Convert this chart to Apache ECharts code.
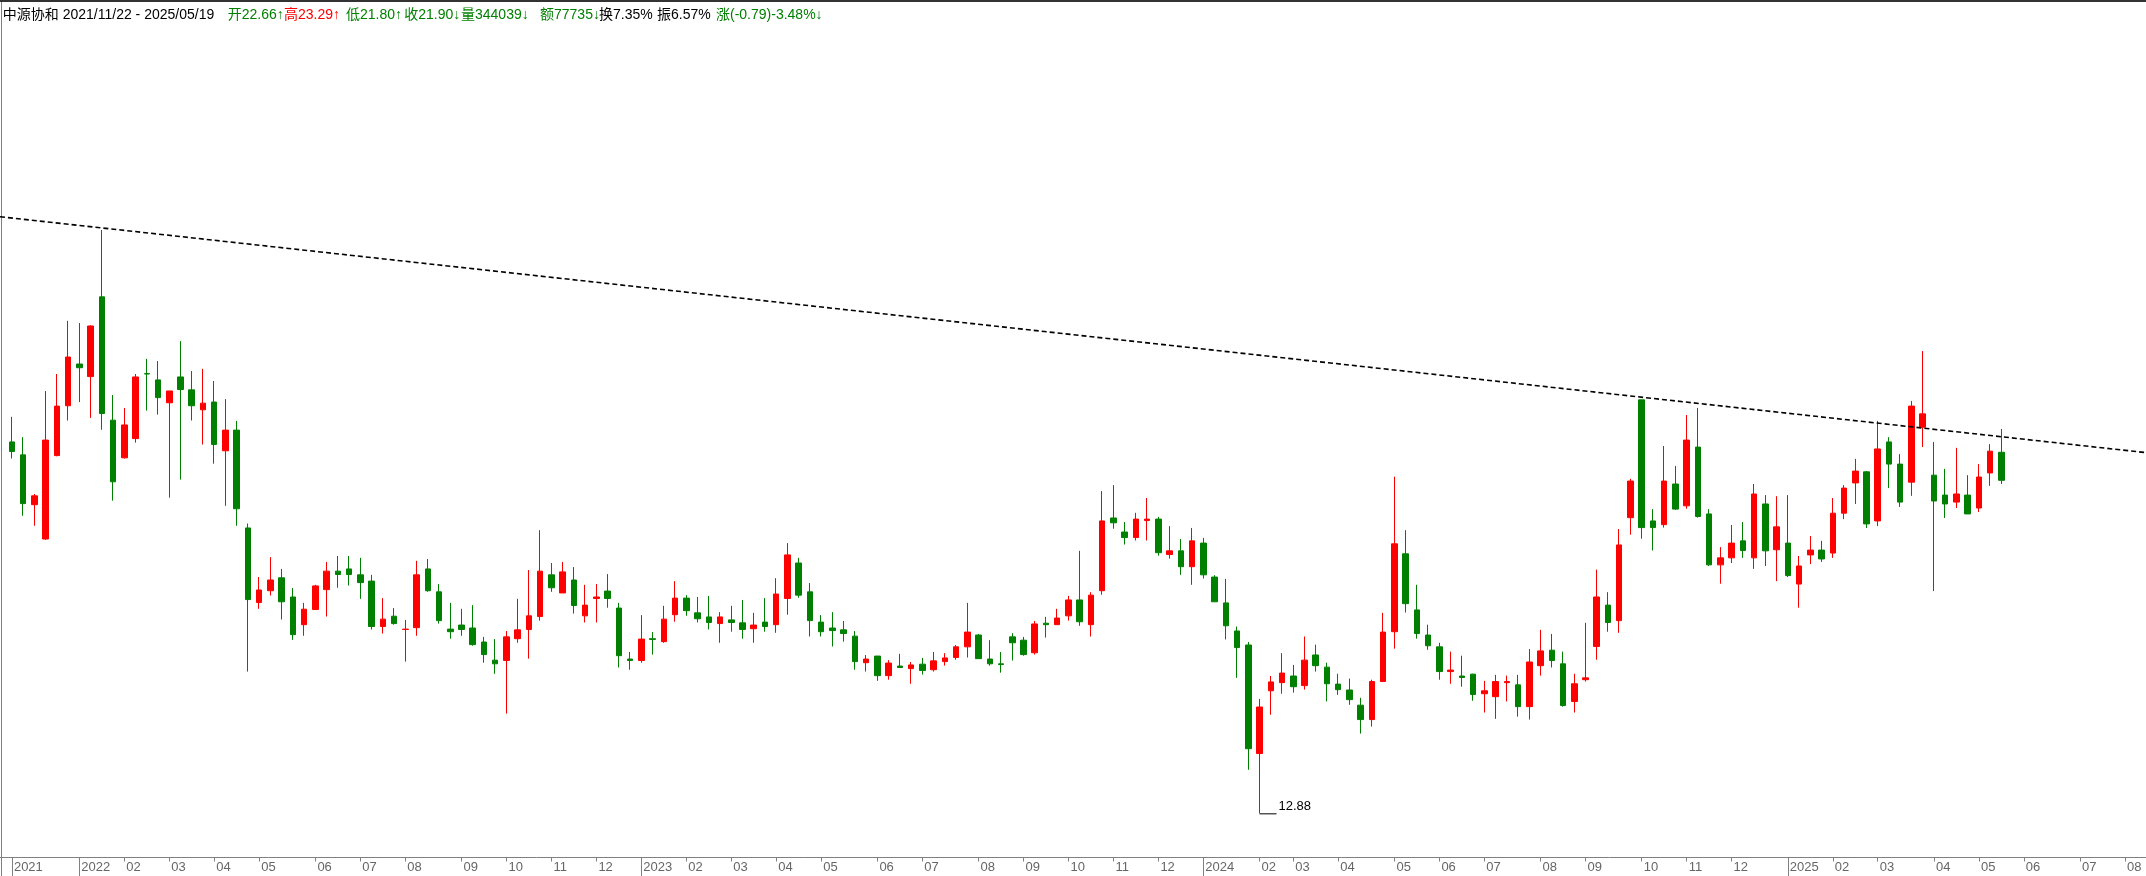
<!DOCTYPE html>
<html><head><meta charset="utf-8">
<script src="https://cdn.jsdelivr.net/npm/echarts@6/dist/echarts.min.js"></script>
<style>html,body{margin:0;padding:0;background:#fff;overflow:hidden;}#c{width:2146px;height:876px;}</style>
</head><body><div id="c"></div>
<script>
// weekly categories (Monday of each trading week), incl. future empty weeks
const weeks = [
'2021-11-22','2021-11-29','2021-12-06','2021-12-13','2021-12-20','2021-12-27',
'2022-01-03','2022-01-10','2022-01-17','2022-01-24','2022-02-07','2022-02-14','2022-02-21','2022-02-28',
'2022-03-07','2022-03-14','2022-03-21','2022-03-28','2022-04-04','2022-04-11','2022-04-18','2022-04-25',
'2022-05-02','2022-05-09','2022-05-16','2022-05-23','2022-05-30','2022-06-06','2022-06-13','2022-06-20','2022-06-27',
'2022-07-04','2022-07-11','2022-07-18','2022-07-25','2022-08-01','2022-08-08','2022-08-15','2022-08-22','2022-08-29',
'2022-09-05','2022-09-12','2022-09-19','2022-09-26','2022-10-10','2022-10-17','2022-10-24','2022-10-31',
'2022-11-07','2022-11-14','2022-11-21','2022-11-28','2022-12-05','2022-12-12','2022-12-19','2022-12-26',
'2023-01-02','2023-01-09','2023-01-16','2023-01-30','2023-02-06','2023-02-13','2023-02-20','2023-02-27',
'2023-03-06','2023-03-13','2023-03-20','2023-03-27','2023-04-03','2023-04-10','2023-04-17','2023-04-24',
'2023-05-01','2023-05-08','2023-05-15','2023-05-22','2023-05-29','2023-06-05','2023-06-12','2023-06-19','2023-06-26',
'2023-07-03','2023-07-10','2023-07-17','2023-07-24','2023-07-31','2023-08-07','2023-08-14','2023-08-21','2023-08-28',
'2023-09-04','2023-09-11','2023-09-18','2023-09-25','2023-10-09','2023-10-16','2023-10-23','2023-10-30',
'2023-11-06','2023-11-13','2023-11-20','2023-11-27','2023-12-04','2023-12-11','2023-12-18','2023-12-25',
'2024-01-01','2024-01-08','2024-01-15','2024-01-22','2024-01-29','2024-02-05','2024-02-19','2024-02-26',
'2024-03-04','2024-03-11','2024-03-18','2024-03-25','2024-04-01','2024-04-08','2024-04-15','2024-04-22','2024-04-29',
'2024-05-06','2024-05-13','2024-05-20','2024-05-27','2024-06-03','2024-06-10','2024-06-17','2024-06-24',
'2024-07-01','2024-07-08','2024-07-15','2024-07-22','2024-07-29','2024-08-05','2024-08-12','2024-08-19','2024-08-26',
'2024-09-02','2024-09-09','2024-09-16','2024-09-23','2024-09-30','2024-10-07','2024-10-14','2024-10-21','2024-10-28',
'2024-11-04','2024-11-11','2024-11-18','2024-11-25','2024-12-02','2024-12-09','2024-12-16','2024-12-23','2024-12-30',
'2025-01-06','2025-01-13','2025-01-20','2025-01-27','2025-02-03','2025-02-10','2025-02-17','2025-02-24',
'2025-03-03','2025-03-10','2025-03-17','2025-03-24','2025-03-31','2025-04-07','2025-04-14','2025-04-21','2025-04-28',
'2025-05-05','2025-05-12','2025-05-19',
'2025-05-26','2025-06-02','2025-06-09','2025-06-16','2025-06-23','2025-06-30','2025-07-07','2025-07-14','2025-07-21','2025-07-28','2025-08-04','2025-08-11','2025-08-18'
];

const openP = [
22.94,22.59,21.24,20.31,22.57,23.92,25.05,24.71,26.87,23.53,
22.51,23.03,24.79,24.62,24.00,24.70,24.35,23.81,24.02,22.70,
23.26,20.61,18.59,18.91,19.26,18.74,17.99,18.40,18.94,19.44,
19.50,19.34,19.17,17.94,18.22,17.86,17.91,19.50,18.88,17.87,
17.98,17.90,17.52,17.03,17.02,17.61,17.86,18.21,19.34,18.85,
19.20,18.23,18.70,18.90,18.44,17.06,17.02,17.61,17.53,18.26,
18.71,18.31,18.20,18.02,18.12,18.04,17.88,18.06,17.99,18.70,
19.66,18.88,18.06,17.90,17.85,17.68,16.96,17.14,16.61,16.87,
16.80,16.92,16.77,16.99,17.10,17.39,17.71,17.06,16.93,17.66,
17.57,17.23,18.03,17.99,18.23,18.66,17.99,18.91,20.88,20.50,
20.35,20.81,20.85,19.89,19.99,19.56,20.20,19.28,18.58,17.82,
17.44,14.50,16.20,16.42,16.60,16.34,17.17,16.84,16.38,16.22,
15.81,15.42,16.45,17.80,19.91,18.39,17.71,17.39,16.72,16.60,
16.65,16.12,16.04,16.42,16.36,15.77,16.88,17.30,16.93,15.91,
16.50,17.40,18.52,18.10,20.89,24.08,20.80,20.70,21.80,21.21,
22.80,20.99,19.61,19.80,20.26,19.80,21.26,20.02,20.20,19.09,
19.88,20.01,19.93,21.01,21.83,22.13,20.80,22.94,22.34,21.85,
23.34,22.04,21.50,21.31,21.50,21.15,22.10,22.66
];
const closeP = [
22.68,21.27,21.48,22.99,23.91,25.24,24.95,26.08,23.71,21.86,
23.40,24.70,24.78,24.14,24.32,24.36,23.92,23.99,22.87,23.26,
21.13,18.67,18.93,19.20,18.61,17.72,18.41,19.04,19.44,19.35,
19.35,19.13,17.94,18.14,18.02,17.87,19.34,18.91,18.10,17.80,
17.86,17.45,17.18,16.93,17.66,17.85,18.23,19.44,18.99,19.42,
18.51,18.52,18.74,18.70,17.15,17.02,17.60,17.59,18.14,18.71,
18.37,18.15,18.05,18.20,18.05,17.86,17.98,17.94,18.82,19.88,
18.79,18.10,17.80,17.83,17.75,16.99,17.06,16.61,16.95,16.83,
16.90,16.75,17.01,17.09,17.39,17.79,17.07,16.93,16.91,17.50,
17.18,18.01,17.99,18.17,18.66,18.07,18.79,20.80,20.75,20.35,
20.85,20.85,19.94,19.99,19.56,20.26,19.34,18.61,17.96,17.37,
14.63,15.76,16.44,16.68,16.31,17.03,16.88,16.39,16.23,15.96,
15.42,16.45,17.79,20.18,18.56,17.75,17.42,16.72,16.76,16.56,
16.10,16.20,16.45,16.45,15.77,16.98,17.28,17.02,15.80,16.39,
16.55,18.74,18.05,20.15,21.88,20.62,20.62,21.88,21.12,22.99,
20.92,19.61,19.80,20.20,20.00,21.53,19.99,20.64,19.32,19.58,
20.01,19.77,21.01,21.69,22.15,20.72,22.75,22.34,21.31,23.91,
23.70,21.34,21.26,21.53,20.99,21.99,22.69,21.90
];
const lowP = [
22.49,20.94,20.67,20.29,22.55,23.52,24.02,23.59,23.27,21.35,
22.49,22.92,23.79,23.68,21.43,21.92,23.52,22.87,22.35,21.21,
20.67,16.72,18.42,18.78,18.13,17.58,17.69,18.40,18.21,18.99,
19.05,18.69,17.86,17.75,17.99,16.99,17.69,18.88,18.02,17.61,
17.69,17.42,16.96,16.66,15.58,17.50,17.07,18.10,18.88,18.85,
18.29,18.05,18.05,18.45,16.83,16.77,16.96,17.18,17.50,18.07,
18.23,18.05,17.86,17.50,17.80,17.61,17.50,17.80,17.77,18.26,
18.72,17.67,17.67,17.40,17.53,16.77,16.72,16.47,16.50,16.83,
16.39,16.64,16.72,16.88,17.04,17.10,17.07,16.88,16.69,17.02,
17.15,17.18,17.64,17.99,18.10,17.96,17.67,18.80,20.59,20.16,
20.27,20.27,19.86,19.78,19.34,19.07,19.24,18.61,17.59,16.55,
14.06,12.88,15.55,16.12,16.15,16.23,16.72,15.91,16.09,15.82,
15.04,15.23,16.45,17.34,18.32,17.61,17.31,16.50,16.39,16.31,
15.93,15.61,15.44,15.91,15.50,15.42,16.61,16.83,15.77,15.61,
16.45,17.04,17.80,17.77,20.43,20.32,20.00,20.62,21.10,21.13,
20.89,19.58,19.10,19.66,19.80,19.50,19.58,19.17,19.28,18.45,
19.63,19.69,19.80,20.85,21.26,20.61,20.66,21.69,21.18,21.48,
22.80,18.90,20.88,21.15,20.99,21.04,21.75,21.80
];
const highP = [
23.62,23.07,21.53,24.32,24.78,26.22,26.16,26.10,28.68,24.21,
23.86,24.78,25.19,25.13,24.32,25.67,24.86,24.92,24.59,24.10,
23.51,20.73,19.28,19.82,19.50,18.98,18.58,19.07,19.69,19.85,
19.85,19.80,19.34,18.71,18.44,18.12,19.72,19.77,19.09,18.58,
18.42,18.52,17.66,17.60,17.82,18.69,19.47,20.55,19.66,19.69,
19.55,19.07,19.09,19.36,18.58,17.25,18.25,17.79,18.50,19.17,
18.79,18.74,18.77,18.33,18.50,18.66,18.31,18.71,19.25,20.20,
19.80,19.12,18.25,18.33,18.09,17.82,17.17,17.14,17.03,17.20,
16.98,17.09,17.25,17.22,17.44,18.58,17.74,17.57,17.25,17.76,
17.66,18.09,18.20,18.42,18.77,19.99,18.87,21.61,21.77,20.77,
21.02,21.42,20.91,20.66,20.31,20.61,20.34,19.33,19.23,17.94,
17.52,15.98,16.60,17.22,16.90,17.67,17.45,16.96,16.66,16.53,
16.01,16.50,18.31,22.00,20.55,19.07,17.99,17.50,17.26,17.15,
16.66,16.47,16.63,16.61,16.63,17.33,17.85,17.74,17.26,16.66,
18.04,19.48,18.87,20.58,21.94,24.08,21.12,22.83,22.29,23.67,
23.86,21.12,20.09,20.69,20.77,21.80,21.50,21.47,21.50,19.85,
20.39,20.26,21.42,21.77,22.48,22.15,23.51,23.07,22.61,24.05,
25.40,22.94,22.21,22.78,22.04,22.34,22.88,23.29
];
// drawn trend line: [week index, price] at its two ends
const trendLine = [[-1.06, 29.04], [189.87, 22.65]];
// header pieces: text, colour key
const headerParts = [
  ['中源协和', 'k'], ['2021/11/22 - 2025/05/19', 'k'], ['开22.66↑', 'g'], ['高23.29↑', 'r'],
  ['低21.80↑', 'g'], ['收21.90↓', 'g'], ['量344039↓', 'g'], ['额77735↓', 'g'],
  ['换7.35%', 'k'], ['振6.57%', 'k'], ['涨(-0.79)-3.48%↓', 'g']
];
const headerX = [2.7, 62.7, 227.7, 284, 346, 404.3, 461, 540, 599, 657, 716];

const chart = echarts.init(document.getElementById('c'), null, {renderer: 'canvas'});
const axisCats = ['2021-11-15'].concat(weeks);          // leading spacer slot
const candles = ['-'].concat(openP.map((o, i) => [o, closeP[i], lowP[i], highP[i]]));
const labelAt = {};
let lastShown = -99;
for (let j = 1; j < axisCats.length; j++) {
  const m = axisCats[j].slice(5, 7);
  const newMonth = j === 1 || m !== axisCats[j - 1].slice(5, 7);
  if (newMonth && j - lastShown >= 3) {
    labelAt[j] = (j === 1 || m === '01') ? axisCats[j].slice(0, 4) : m;
    lastShown = j;
  }
}
const isLabel = j => labelAt[j] !== undefined;
const isYear = j => isLabel(j) && labelAt[j].length === 4;
const FONT = '"Liberation Sans", Arial, "Noto Sans CJK SC", sans-serif';
const COLORS = {k: '#000', g: '#008000', r: '#ff0000'};
const STEP = 11.24;

const staticGraphics = [
  {id: 'topbar', type: 'rect', shape: {x: 0, y: 0, width: 2146, height: 2}, style: {fill: '#333'}, silent: true},
  {id: 'leftline', type: 'line', shape: {x1: 1.5, y1: 2, x2: 1.5, y2: 876}, style: {stroke: '#808080', lineWidth: 1}, silent: true},
  {id: 'axisline', type: 'line', shape: {x1: 0, y1: 857.5, x2: 2146, y2: 857.5}, style: {stroke: '#808080', lineWidth: 1}, silent: true}
].concat(headerParts.map((p, i) => ({
  id: 'h' + i, type: 'text', x: headerX[i], y: 15, silent: true,
  style: {text: p[0], fill: COLORS[p[1]], font: '14px ' + FONT, verticalAlign: 'middle', align: 'left'}
})));

const option = {
  animation: false,
  backgroundColor: '#fff',
  grid: {left: 0.66, width: (axisCats.length - 1) * STEP, top: 22, bottom: 18.5, containLabel: false, outerBoundsMode: 'none'},
  xAxis: [
    {
      type: 'category', data: axisCats, position: 'bottom', boundaryGap: false,
      axisLine: {show: false},
      axisTick: {show: true, alignWithLabel: true, interval: j => isLabel(j), length: 4, lineStyle: {color: '#808080', width: 1}},
      axisLabel: {
        show: true, interval: j => isLabel(j), align: 'left', margin: 3, padding: [0, 0, 0, 2],
        showMinLabel: true, showMaxLabel: true, hideOverlap: false,
        color: '#666', fontFamily: FONT, fontSize: 13,
        formatter: (v, j) => labelAt[j] || ''
      },
      splitLine: {show: false}
    },
    {
      type: 'category', data: axisCats, position: 'bottom', boundaryGap: false,
      axisLine: {show: false}, axisLabel: {show: false},
      axisTick: {show: true, alignWithLabel: true, interval: j => isYear(j), length: 19, lineStyle: {color: '#808080', width: 1}},
      splitLine: {show: false}
    },
    {type: 'value', min: -1, max: axisCats.length - 2, show: false, splitLine: {show: false}}
  ],
  yAxis: {type: 'value', min: 11.684, max: 34.314, show: false, splitLine: {show: false}},
  series: [
    {
      type: 'candlestick', xAxisIndex: 0, yAxisIndex: 0, data: candles, barWidth: 6, silent: true,
      itemStyle: {color: '#ff0000', color0: '#008000', borderColor: '#ff0000', borderColor0: '#008000', borderWidth: 1}
    },
    {
      type: 'line', xAxisIndex: 2, yAxisIndex: 0, data: trendLine, symbol: 'none', clip: false, silent: true,
      lineStyle: {color: '#000', width: 1.6, type: [5, 3]}
    }
  ],
  graphic: staticGraphics
};
chart.setOption(option);

// lowest-low marker
let lowIdx = 0;
lowP.forEach((v, i) => { if (v < lowP[lowIdx]) lowIdx = i; });
const pt = chart.convertToPixel({xAxisIndex: 0, yAxisIndex: 0}, [lowIdx + 1, lowP[lowIdx]]);
chart.setOption({
  graphic: staticGraphics.concat([
    {id: 'lowline', type: 'line', shape: {x1: pt[0], y1: pt[1] + 0.5, x2: pt[0] + 17, y2: pt[1] + 0.5}, style: {stroke: '#000', lineWidth: 1}, silent: true},
    {id: 'lowtext', type: 'text', x: pt[0] + 19, y: pt[1] - 7, style: {text: lowP[lowIdx].toFixed(2), fill: '#000', font: '13px ' + FONT, verticalAlign: 'middle', align: 'left'}, silent: true}
  ])
});
</script>
</body></html>
